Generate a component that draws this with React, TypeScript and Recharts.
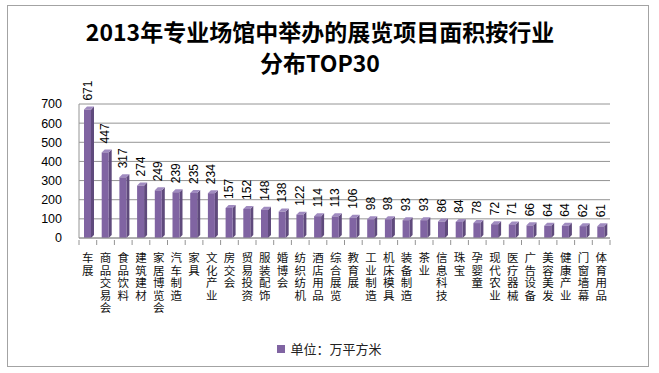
import { Bar, BarChart, CartesianGrid, LabelList, Legend, XAxis, YAxis } from 'recharts'

const TITLE_LINES = ['2013年专业场馆中举办的展览项目面积按行业', '分布TOP30']
const LEGEND_LABEL = '单位：万平方米'

const CATEGORIES = [
  '车展', '商品交易会', '食品饮料', '建筑建材', '家居博览会', '汽车制造', '家具', '文化产业',
  '房交会', '贸易投资', '服装配饰', '婚博会', '纺织纺机', '酒店用品', '综合展览', '教育展',
  '工业制造', '机床模具', '装备制造', '茶业', '信息科技', '珠宝', '孕婴童', '现代农业',
  '医疗器械', '广告设备', '美容美发', '健康产业', '门窗墙幕', '体育用品',
]
const AREAS = [
  671, 447, 317, 274, 249, 239, 235, 234, 157, 152, 148, 138, 122, 114, 113, 106,
  98, 98, 93, 93, 86, 84, 78, 72, 71, 66, 64, 64, 62, 61,
]
const Y_TICKS = [0, 100, 200, 300, 400, 500, 600, 700]

const W = 659
const H = 373
const PLOT_LEFT = 79
const PLOT_RIGHT = 610
const STEP = (PLOT_RIGHT - PLOT_LEFT) / CATEGORIES.length

const PURPLE = '#8064a2'
const PURPLE_SIDE = '#5f4a7c'
const PURPLE_TOP = '#a08bc0'
const GRID = '#949494'
const INK = '#000'
const LATIN = '"Liberation Sans", Arial, sans-serif'
const CJK = '"Noto Sans CJK SC", sans-serif'

const data = CATEGORIES.map((name, i) => ({ name, value: AREAS[i] }))

/** Excel-style 3D column: front face, darker right side, lighter cap. */
function Column(props: any) {
  const { x, y, width, height } = props
  const d = 3
  return (
    <g>
      <polygon
        points={`${x + width},${y} ${x + width + d},${y - d} ${x + width + d},${y + height - d} ${x + width},${y + height}`}
        fill={PURPLE_SIDE}
      />
      <polygon
        points={`${x},${y} ${x + d},${y - d} ${x + width + d},${y - d} ${x + width},${y}`}
        fill={PURPLE_TOP}
      />
      <rect x={x} y={y} width={width} height={height} fill={PURPLE} />
    </g>
  )
}

// stacked upright characters, top-aligned under the axis
function CategoryTick(props: any) {
  const { x, y, payload, index } = props
  const left = x - STEP / 2
  return (
    <g>
      <line x1={left} y1={y + 2} x2={left} y2={y + 7} stroke={GRID} />
      {index === CATEGORIES.length - 1 && (
        <line x1={left + STEP} y1={y + 2} x2={left + STEP} y2={y + 7} stroke={GRID} />
      )}
      <text
        x={x}
        y={y + 14}
        textAnchor="start"
        fontSize={11.5}
        fontFamily={CJK}
        fill="#111"
        letterSpacing={1}
        style={{ writingMode: 'vertical-rl' as any }}
      >
        {payload.value}
      </text>
    </g>
  )
}

function ValueLabel(props: any) {
  const { x, y, width, value } = props
  return (
    <text
      transform={`translate(${x + width / 2},${y - 9}) rotate(-90)`}
      textAnchor="start"
      dominantBaseline="central"
      fontSize={12}
      fontFamily={LATIN}
      fill={INK}
    >
      {value}
    </text>
  )
}

function LegendBox({ payload }: any) {
  const item = payload?.[0]
  return (
    <div style={{ display: 'flex', justifyContent: 'center', alignItems: 'center' }}>
      <span style={{ width: 8, height: 8, background: PURPLE, marginRight: 5 }} />
      <span style={{ fontSize: 13, fontFamily: CJK, color: '#222' }}>{item?.value}</span>
    </div>
  )
}

export default function App() {
  return (
    <div style={{ position: 'fixed', left: 0, top: 0, width: W, height: H, background: '#fff' }}>
      <div
        style={{
          position: 'absolute',
          left: 7,
          top: 5,
          width: 642,
          height: 362,
          border: '1.5px solid #a3a3a3',
          boxSizing: 'border-box',
        }}
      />
      <div
        style={{
          position: 'absolute',
          left: 0,
          top: 16,
          width: 640,
          textAlign: 'center',
          fontFamily: CJK,
          fontWeight: 700,
          fontSize: 23,
          lineHeight: '31px',
          color: '#000',
        }}
      >
        {TITLE_LINES.map((t) => (
          <div key={t}>{t}</div>
        ))}
      </div>
      <BarChart
        width={W}
        height={H}
        data={data}
        margin={{ top: 104, right: W - PLOT_RIGHT, bottom: 35, left: 0 }}
        barCategoryGap={0}
        style={{ position: 'absolute', left: 0, top: 0 }}
      >
        <CartesianGrid stroke={GRID} vertical={false} />
        <XAxis
          dataKey="name"
          interval={0}
          height={100}
          tickLine={false}
          tickSize={0}
          tickMargin={0}
          axisLine={{ stroke: GRID }}
          tick={<CategoryTick />}
        />
        <YAxis
          width={PLOT_LEFT}
          domain={[0, 700]}
          ticks={Y_TICKS}
          interval={0}
          tickLine={false}
          tickSize={0}
          tickMargin={17}
          axisLine={{ stroke: GRID }}
          tick={{ fill: INK, fontSize: 12.5, fontFamily: LATIN }}
        />
        <Legend
          layout="horizontal"
          verticalAlign="middle"
          align="center"
          content={<LegendBox />}
          wrapperStyle={{ top: 339, left: 0, width: W }}
        />
        <Bar
          dataKey="value"
          name={LEGEND_LABEL}
          barSize={7}
          fill={PURPLE}
          shape={<Column />}
          isAnimationActive={false}
        >
          <LabelList dataKey="value" content={<ValueLabel />} />
        </Bar>
      </BarChart>
    </div>
  )
}
